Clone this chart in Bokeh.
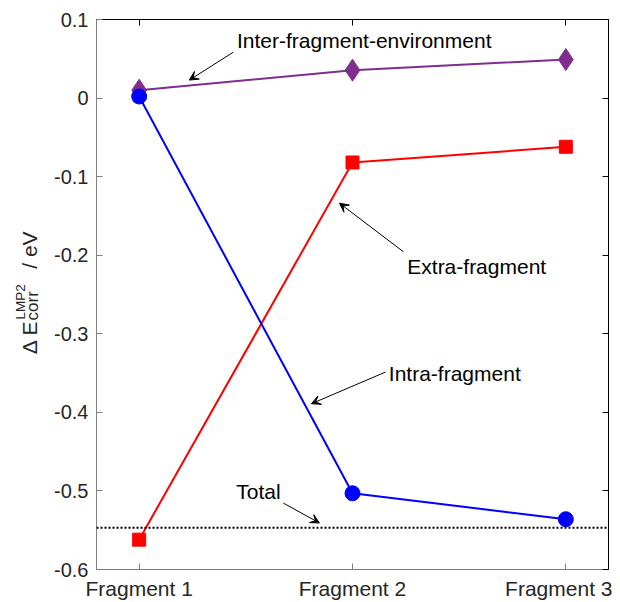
from math import pi
from bokeh.plotting import figure
from bokeh.layouts import row
from bokeh.models import Range1d, FixedTicker, LinearAxis, Span, Arrow, VeeHead, Label
from bokeh.embed import file_html
from bokeh.resources import INLINE

# ---- data ----
fragments = ["Fragment 1", "Fragment 2", "Fragment 3"]
frag_x = [1, 2, 3]
inter_env = [0.010, 0.0355, 0.049]
intra = [0.002, -0.503, -0.536]
extra = [-0.562, -0.082, -0.062]
total = -0.547

y_ticks = [-0.6, -0.5, -0.4, -0.3, -0.2, -0.1, 0.0, 0.1]
y_tick_labels = ["-0.6", "-0.5", "-0.4", "-0.3", "-0.2", "-0.1", "0", "0.1"]

# annotations (text left/middle anchor, arrow tail -> head), data units
annot_text = ["Inter-fragment-environment", "Extra-fragment", "Intra-fragment", "Total"]
annot_x = [1.4587, 2.2568, 2.1704, 1.4554]
annot_y = [0.0735, -0.2140, -0.3510, -0.5010]
arrow_x0 = [1.441, 2.239, 2.155, 1.676]
arrow_y0 = [0.0583, -0.1957, -0.3487, -0.5155]
arrow_x1 = [1.235, 1.939, 1.8075, 1.845]
arrow_y1 = [0.0229, -0.1338, -0.389, -0.5408]

FONT = "Liberation Sans"
TICK_COLOR = "#262626"
H = 602
TOP, BOTTOM = 19, 29
LEFT_W = 40

p = figure(width=612 - LEFT_W, height=H,
           x_range=Range1d(0.8, 3.2), y_range=Range1d(-0.6, 0.1),
           output_backend="svg", toolbar_location=None,
           min_border_left=96 - LEFT_W, min_border_right=4,
           min_border_top=TOP, min_border_bottom=BOTTOM,
           background_fill_color="white", border_fill_color="white")
p.grid.visible = False
p.outline_line_color = "black"
p.outline_line_width = 1

# bottom axis
xa = p.xaxis[0]
xa.ticker = FixedTicker(ticks=frag_x)
xa.major_label_overrides = {x: lbl for x, lbl in zip(frag_x, fragments)}
xa.major_label_text_font = FONT
xa.major_label_text_font_size = "21px"
xa.major_label_text_color = TICK_COLOR
xa.major_label_standoff = 7
xa.major_tick_in = 6
xa.major_tick_out = 0
xa.minor_tick_line_color = None
xa.axis_line_color = "#808080"
xa.major_tick_line_color = "#808080"

# left axis
ya = p.yaxis[0]
ya.ticker = FixedTicker(ticks=y_ticks)
ya.major_label_overrides = {t: lbl for t, lbl in zip(y_ticks, y_tick_labels)}
ya.major_label_text_font = FONT
ya.major_label_text_font_size = "20px"
ya.major_label_text_color = TICK_COLOR
ya.major_label_standoff = 8
ya.major_tick_in = 6
ya.major_tick_out = 0
ya.minor_tick_line_color = None
ya.axis_line_color = "#808080"
ya.major_tick_line_color = "#808080"

# top and right box axes with inward ticks, labels not painted
top_ax = LinearAxis(ticker=FixedTicker(ticks=frag_x), major_label_text_font_size="1px",
                    major_label_text_color=None,
                    major_label_standoff=0, major_tick_in=6, major_tick_out=0,
                    minor_tick_line_color=None, axis_line_color="black",
                    major_tick_line_color="black")
right_ax = LinearAxis(ticker=FixedTicker(ticks=y_ticks), major_label_text_font_size="1px",
                      major_label_text_color=None,
                      major_label_standoff=0, major_tick_in=6, major_tick_out=0,
                      minor_tick_line_color=None, axis_line_color="black",
                      major_tick_line_color="black")
p.add_layout(top_ax, "above")
p.add_layout(right_ax, "right")

# series
p.line(frag_x, inter_env, line_color="#7E2F8E", line_width=2)
p.scatter(frag_x, inter_env, marker="diamond", size=22, fill_color="#7E2F8E", line_color="#7E2F8E")

p.line(frag_x, extra, line_color="#FF0000", line_width=2)
p.scatter(frag_x, extra, marker="square", size=13, fill_color="#FF0000", line_color="#FF0000")

p.line(frag_x, intra, line_color="#0000FF", line_width=2)
p.scatter(frag_x, intra, marker="circle", size=15, fill_color="#0000FF", line_color="#0000FF")

p.add_layout(Span(location=total, dimension="width", line_color="black",
                  line_width=2, line_dash="2 2"))

# annotations
for t, x, y, x0, y0, x1, y1 in zip(annot_text, annot_x, annot_y,
                                   arrow_x0, arrow_y0, arrow_x1, arrow_y1):
    p.add_layout(Label(x=x, y=y, text=t, text_font=FONT, text_font_size="21px",
                       text_color="black", text_align="left", text_baseline="middle"))
    p.add_layout(Arrow(x_start=x0, y_start=y0, x_end=x1, y_end=y1,
                       line_color="black", line_width=1,
                       end=VeeHead(size=9, fill_color="black", line_color="black", line_width=1)))

# y-axis label panel: Δ E^{LMP2}_{corr} / eV built from rotated pieces
lab = figure(width=LEFT_W, height=H, x_range=Range1d(0, LEFT_W), y_range=Range1d(-0.6, 0.1),
             output_backend="svg", toolbar_location=None,
             x_axis_location=None, y_axis_location=None,
             min_border_left=0, min_border_right=0,
             min_border_top=TOP, min_border_bottom=BOTTOM,
             background_fill_color="white", border_fill_color="white")
lab.grid.visible = False
lab.outline_line_color = None

# (text, centre-line x [px], start y [data], font size)
ylab_parts = [("\u0394 E", 28.5, -0.3259, "21px"),
              ("LMP2", 20.0, -0.2817, "13.5px"),
              ("corr", 31.5, -0.2830, "17px"),
              ("/  eV", 28.5, -0.2172, "21px")]
for txt, x, y, fs in ylab_parts:
    lab.add_layout(Label(x=x, y=y, text=txt, angle=pi / 2, text_font=FONT,
                         text_font_size=fs, text_color=TICK_COLOR,
                         text_align="left", text_baseline="middle"))

layout = row(lab, p, spacing=0)
open("out.html", "w").write(file_html(layout, INLINE))
